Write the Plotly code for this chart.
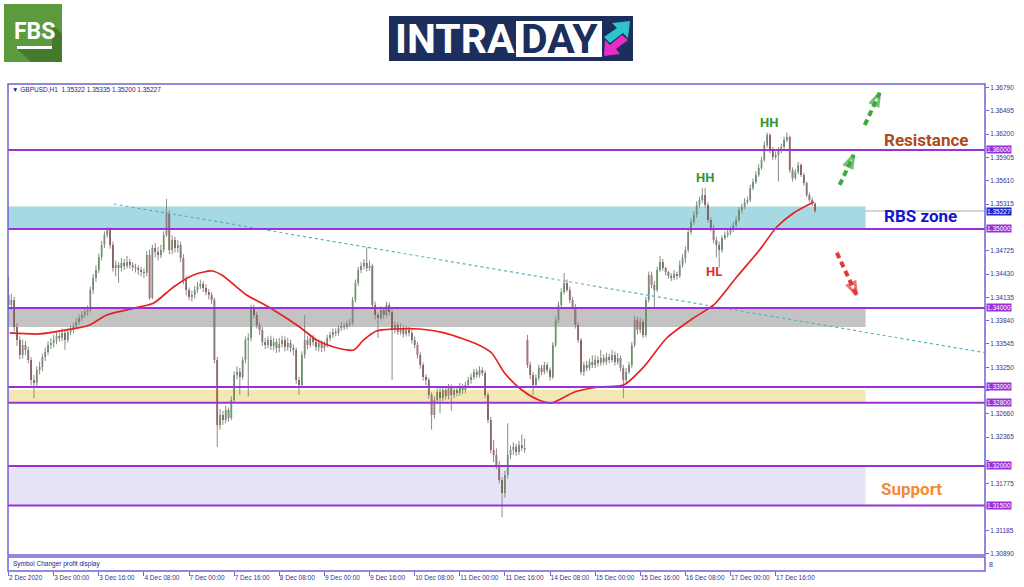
import plotly.graph_objects as go

# ---------------- DATA (GBPUSD H1) ----------------
close = [1.34038, 1.34101, 1.33759, 1.33595, 1.33405, 1.33532, 1.33468, 1.33342, 1.33089, 1.33051,
         1.33215, 1.33253, 1.33380, 1.33443, 1.33532, 1.33557, 1.33595, 1.33646, 1.33620, 1.33684,
         1.33595, 1.33696, 1.33722, 1.33772, 1.33823, 1.33873, 1.33911, 1.33949, 1.33975, 1.34228,
         1.34380, 1.34481, 1.34646, 1.34797, 1.34924, 1.34987, 1.34797, 1.34506, 1.34544, 1.34506,
         1.34570, 1.34532, 1.34582, 1.34544, 1.34519, 1.34506, 1.34481, 1.34456, 1.34443, 1.34671,
         1.34127, 1.34759, 1.34709, 1.34671, 1.34734, 1.34924, 1.35203, 1.34734, 1.34861, 1.34759,
         1.34797, 1.34633, 1.34354, 1.34228, 1.34139, 1.34165, 1.34228, 1.34278, 1.34304, 1.34253,
         1.34203, 1.34165, 1.34101, 1.33342, 1.32519, 1.32646, 1.32582, 1.32709, 1.32608, 1.32835,
         1.33152, 1.33190, 1.33127, 1.33342, 1.33595, 1.33620, 1.34013, 1.33911, 1.33785, 1.33722,
         1.33570, 1.33532, 1.33595, 1.33519, 1.33570, 1.33494, 1.33544, 1.33595, 1.33506, 1.33557,
         1.33494, 1.33468, 1.33089, 1.33025, 1.33405, 1.33595, 1.33532, 1.33620, 1.33570, 1.33506,
         1.33557, 1.33494, 1.33532, 1.33620, 1.33658, 1.33696, 1.33684, 1.33747, 1.33772, 1.33759,
         1.33797, 1.33810, 1.34101, 1.34316, 1.34481, 1.34532, 1.34570, 1.34506, 1.34532, 1.34038,
         1.33911, 1.33873, 1.33975, 1.33911, 1.34038, 1.33949, 1.33722, 1.33785, 1.33696, 1.33747,
         1.33671, 1.33722, 1.33684, 1.33595, 1.33532, 1.33405, 1.33278, 1.33127, 1.33089, 1.32899,
         1.32646, 1.32835, 1.32937, 1.32861, 1.32962, 1.32886, 1.32987, 1.32899, 1.32962, 1.32924,
         1.33000, 1.32962, 1.33025, 1.33089, 1.33127, 1.33190, 1.33152, 1.33215, 1.33177, 1.32899,
         1.32582, 1.32203, 1.32139, 1.32013, 1.31823, 1.31658, 1.31886, 1.32139, 1.32203, 1.32241,
         1.32177, 1.32266, 1.32228, 1.32215, 1.33278, 1.33152, 1.33025, 1.33114, 1.33241, 1.33190,
         1.33278, 1.33215, 1.33127, 1.33532, 1.33848, 1.34038, 1.34203, 1.34316, 1.34228, 1.34101,
         1.34013, 1.33785, 1.33595, 1.33190, 1.33278, 1.33241, 1.33316, 1.33278, 1.33342, 1.33304,
         1.33367, 1.33316, 1.33380, 1.33342, 1.33405, 1.33316, 1.33367, 1.33241, 1.33089, 1.33190,
         1.33278, 1.33532, 1.33848, 1.33722, 1.33823, 1.33658, 1.34101, 1.34418, 1.34291, 1.34228,
         1.34481, 1.34582, 1.34506, 1.34456, 1.34405, 1.34380, 1.34430, 1.34405, 1.34544, 1.34633,
         1.34734, 1.34962, 1.35089, 1.35177, 1.35304, 1.35367, 1.35430, 1.35304, 1.35114, 1.35013,
         1.34861, 1.34797, 1.34734, 1.34886, 1.34924, 1.34949, 1.34987, 1.35051, 1.35114, 1.35241,
         1.35278, 1.35342, 1.35367, 1.35519, 1.35595, 1.35684, 1.35772, 1.35873, 1.36063, 1.36190,
         1.36000, 1.35911, 1.35937, 1.36000, 1.36038, 1.36127, 1.36165, 1.35747, 1.35646, 1.35722,
         1.35810, 1.35684, 1.35582, 1.35430, 1.35367, 1.35322, 1.35227]

open_ = [1.34165, 1.34038, 1.34101, 1.33759, 1.33595, 1.33405, 1.33532, 1.33468, 1.33342, 1.33089,
         1.33051, 1.33215, 1.33253, 1.33380, 1.33443, 1.33532, 1.33557, 1.33595, 1.33646, 1.33620,
         1.33684, 1.33595, 1.33696, 1.33722, 1.33772, 1.33823, 1.33873, 1.33911, 1.33949, 1.33975,
         1.34228, 1.34380, 1.34481, 1.34646, 1.34797, 1.34924, 1.34987, 1.34797, 1.34506, 1.34544,
         1.34506, 1.34570, 1.34532, 1.34582, 1.34544, 1.34519, 1.34506, 1.34481, 1.34456, 1.34443,
         1.34671, 1.34127, 1.34759, 1.34709, 1.34671, 1.34734, 1.34924, 1.35203, 1.34734, 1.34861,
         1.34759, 1.34797, 1.34633, 1.34354, 1.34228, 1.34139, 1.34165, 1.34228, 1.34278, 1.34304,
         1.34253, 1.34203, 1.34165, 1.34101, 1.33342, 1.32519, 1.32646, 1.32582, 1.32709, 1.32608,
         1.32835, 1.33152, 1.33190, 1.33127, 1.33342, 1.33595, 1.33620, 1.34013, 1.33911, 1.33785,
         1.33722, 1.33570, 1.33532, 1.33595, 1.33519, 1.33570, 1.33494, 1.33544, 1.33595, 1.33506,
         1.33557, 1.33494, 1.33468, 1.33089, 1.33025, 1.33405, 1.33595, 1.33532, 1.33620, 1.33570,
         1.33506, 1.33557, 1.33494, 1.33532, 1.33620, 1.33658, 1.33696, 1.33684, 1.33747, 1.33772,
         1.33759, 1.33797, 1.33810, 1.34101, 1.34316, 1.34481, 1.34532, 1.34570, 1.34506, 1.34532,
         1.34038, 1.33911, 1.33873, 1.33975, 1.33911, 1.34038, 1.33949, 1.33722, 1.33785, 1.33696,
         1.33747, 1.33671, 1.33722, 1.33684, 1.33595, 1.33532, 1.33405, 1.33278, 1.33127, 1.33089,
         1.32899, 1.32646, 1.32835, 1.32937, 1.32861, 1.32962, 1.32886, 1.32987, 1.32899, 1.32962,
         1.32924, 1.33000, 1.32962, 1.33025, 1.33089, 1.33127, 1.33190, 1.33152, 1.33215, 1.33177,
         1.32899, 1.32582, 1.32203, 1.32139, 1.32013, 1.31823, 1.31658, 1.31886, 1.32139, 1.32203,
         1.32241, 1.32177, 1.32266, 1.32228, 1.33595, 1.33278, 1.33152, 1.33025, 1.33114, 1.33241,
         1.33190, 1.33278, 1.33215, 1.33127, 1.33532, 1.33848, 1.34038, 1.34203, 1.34316, 1.34228,
         1.34101, 1.34013, 1.33785, 1.33595, 1.33190, 1.33278, 1.33241, 1.33316, 1.33278, 1.33342,
         1.33304, 1.33367, 1.33316, 1.33380, 1.33342, 1.33405, 1.33316, 1.33367, 1.33241, 1.33089,
         1.33190, 1.33278, 1.33532, 1.33848, 1.33722, 1.33823, 1.33658, 1.34101, 1.34418, 1.34291,
         1.34228, 1.34481, 1.34582, 1.34506, 1.34456, 1.34405, 1.34380, 1.34430, 1.34405, 1.34544,
         1.34633, 1.34734, 1.34962, 1.35089, 1.35177, 1.35304, 1.35367, 1.35430, 1.35304, 1.35114,
         1.35013, 1.34861, 1.34797, 1.34734, 1.34886, 1.34924, 1.34949, 1.34987, 1.35051, 1.35114,
         1.35241, 1.35278, 1.35342, 1.35367, 1.35519, 1.35595, 1.35684, 1.35772, 1.35873, 1.36063,
         1.36190, 1.36000, 1.35911, 1.35937, 1.36000, 1.36038, 1.36127, 1.36165, 1.35747, 1.35646,
         1.35722, 1.35810, 1.35684, 1.35582, 1.35430, 1.35367, 1.35322]

high = [1.34392, 1.3418, 1.3414, 1.3381, 1.3364, 1.3360, 1.3358, 1.3351, 1.3338, 1.3315,
        1.3326, 1.3332, 1.3342, 1.3350, 1.3358, 1.3362, 1.3366, 1.3370, 1.3369, 1.3374,
        1.3372, 1.3374, 1.3378, 1.3381, 1.3387, 1.3392, 1.3396, 1.3399, 1.3403, 1.3427,
        1.3443, 1.3454, 1.3469, 1.3485, 1.3497, 1.3502, 1.3502, 1.3484, 1.3460, 1.3458,
        1.3463, 1.3462, 1.3466, 1.3462, 1.3458, 1.3456, 1.3454, 1.3452, 1.3450, 1.3472,
        1.3474, 1.3480, 1.3482, 1.3477, 1.3480, 1.3497, 1.3538, 1.3524, 1.3492, 1.3490,
        1.3486, 1.3484, 1.3468, 1.3440, 1.3426, 1.3422, 1.3428, 1.3433, 1.3436, 1.3434,
        1.3430, 1.3424, 1.3420, 1.3413, 1.3338, 1.3272, 1.3270, 1.3276, 1.3274, 1.3288,
        1.3320, 1.3326, 1.3324, 1.3338, 1.3364, 1.3368, 1.3404, 1.3404, 1.3395, 1.3382,
        1.3376, 1.3362, 1.3364, 1.3365, 1.3362, 1.3361, 1.3362, 1.3365, 1.3364, 1.3362,
        1.3360, 1.3354, 1.3350, 1.3313, 1.3345, 1.3391, 1.3364, 1.3367, 1.3366, 1.3361,
        1.3360, 1.3359, 1.3358, 1.3366, 1.3370, 1.3374, 1.3374, 1.3378, 1.3382, 1.3381,
        1.3384, 1.3386, 1.3414, 1.3436, 1.3452, 1.3458, 1.3462, 1.3477, 1.3460, 1.3456,
        1.3408, 1.3394, 1.3402, 1.3401, 1.3408, 1.3407, 1.3398, 1.3383, 1.3382, 1.3380,
        1.3378, 1.3377, 1.3376, 1.3372, 1.3364, 1.3357, 1.3344, 1.3331, 1.3316, 1.3312,
        1.3293, 1.3288, 1.3298, 1.3300, 1.3301, 1.3300, 1.3304, 1.3303, 1.3301, 1.3300,
        1.3305, 1.3304, 1.3307, 1.3313, 1.3317, 1.3323, 1.3323, 1.3326, 1.3325, 1.3321,
        1.3293, 1.3262, 1.3233, 1.3222, 1.3206, 1.3186, 1.3194, 1.3254, 1.3226, 1.3230,
        1.3228, 1.3232, 1.3240, 1.3235, 1.3366, 1.3332, 1.3319, 1.3316, 1.3328, 1.3328,
        1.3332, 1.3331, 1.3325, 1.3357, 1.3389, 1.3408, 1.3425, 1.3444, 1.3436, 1.3427,
        1.3414, 1.3405, 1.3382, 1.3362, 1.3332, 1.3333, 1.3336, 1.3340, 1.3340, 1.3339,
        1.3347, 1.3341, 1.3343, 1.3342, 1.3347, 1.3345, 1.3343, 1.3340, 1.3328, 1.3324,
        1.3332, 1.3357, 1.3390, 1.3389, 1.3388, 1.3386, 1.3414, 1.3446, 1.3446, 1.3434,
        1.3452, 1.3466, 1.3462, 1.3452, 1.3447, 1.3444, 1.3448, 1.3446, 1.3460, 1.3468,
        1.3478, 1.3500, 1.3513, 1.3522, 1.3535, 1.3541, 1.3552, 1.3552, 1.3534, 1.3515,
        1.3505, 1.3490, 1.3484, 1.3492, 1.3497, 1.3499, 1.3503, 1.3509, 1.3516, 1.3528,
        1.3532, 1.3539, 1.3541, 1.3556, 1.3564, 1.3573, 1.3582, 1.3591, 1.3611, 1.3622,
        1.3621, 1.3604, 1.3598, 1.3604, 1.3608, 1.3617, 1.3622, 1.3618, 1.3578, 1.3576,
        1.3585, 1.3583, 1.3571, 1.3560, 1.3546, 1.3540, 1.35335]

low = [1.33975, 1.3398, 1.3370, 1.3352, 1.3335, 1.3336, 1.3340, 1.3330, 1.3302, 1.3286,
       1.3300, 1.3316, 1.3320, 1.3333, 1.3340, 1.3348, 1.3350, 1.3354, 1.3357, 1.3358,
       1.3347, 1.3356, 1.3366, 1.3368, 1.3374, 1.3379, 1.3383, 1.3387, 1.3390, 1.3394,
       1.3418, 1.3433, 1.3444, 1.3460, 1.3476, 1.3489, 1.3475, 1.3446, 1.3440, 1.3432,
       1.3446, 1.3448, 1.3450, 1.3450, 1.3447, 1.3445, 1.3442, 1.3440, 1.3438, 1.3440,
       1.3410, 1.3411, 1.3464, 1.3460, 1.3463, 1.3470, 1.3490, 1.3468, 1.3468, 1.3470,
       1.3470, 1.3458, 1.3430, 1.3416, 1.3410, 1.3408, 1.3412, 1.3419, 1.3424, 1.3420,
       1.3416, 1.3411, 1.3405, 1.3330, 1.3224, 1.3246, 1.3252, 1.3254, 1.3256, 1.3258,
       1.3280, 1.3310, 1.3290, 1.3310, 1.3330, 1.3288, 1.3358, 1.3387, 1.3374, 1.3366,
       1.3352, 1.3348, 1.3349, 1.3347, 1.3346, 1.3343, 1.3344, 1.3350, 1.3345, 1.3346,
       1.3344, 1.3340, 1.3304, 1.3290, 1.3299, 1.3336, 1.3348, 1.3350, 1.3352, 1.3346,
       1.3345, 1.3344, 1.3345, 1.3350, 1.3358, 1.3362, 1.3364, 1.3365, 1.3371, 1.3372,
       1.3373, 1.3376, 1.3378, 1.3407, 1.3428, 1.3444, 1.3449, 1.3446, 1.3447, 1.3399,
       1.3385, 1.3362, 1.3384, 1.3386, 1.3388, 1.3390, 1.3309, 1.3368, 1.3366, 1.3366,
       1.3363, 1.3364, 1.3364, 1.3355, 1.3349, 1.3336, 1.3323, 1.3308, 1.3302, 1.3285,
       1.3246, 1.3260, 1.3279, 1.3267, 1.3282, 1.3284, 1.3284, 1.3270, 1.3286, 1.3288,
       1.3289, 1.3291, 1.3292, 1.3299, 1.3304, 1.3309, 1.3311, 1.3312, 1.3314, 1.3286,
       1.3254, 1.3216, 1.3205, 1.3196, 1.3178, 1.3135, 1.3160, 1.3184, 1.3209, 1.3214,
       1.3213, 1.3214, 1.3219, 1.3217, 1.3324, 1.3310, 1.3290, 1.3299, 1.3308, 1.3315,
       1.3316, 1.3318, 1.3308, 1.3310, 1.3350, 1.3381, 1.3400, 1.3417, 1.3420, 1.3406,
       1.3398, 1.3374, 1.3356, 1.3315, 1.3314, 1.3320, 1.3321, 1.3324, 1.3324, 1.3326,
       1.3327, 1.3328, 1.3328, 1.3330, 1.3331, 1.3327, 1.3328, 1.3320, 1.3286, 1.3305,
       1.3316, 1.3324, 1.3350, 1.3366, 1.3368, 1.3362, 1.3363, 1.3407, 1.3425, 1.3400,
       1.3420, 1.3446, 1.3447, 1.3441, 1.3437, 1.3434, 1.3435, 1.3436, 1.3438, 1.3451,
       1.3457, 1.3470, 1.3493, 1.3505, 1.3514, 1.3527, 1.3533, 1.3527, 1.3508, 1.3497,
       1.3482, 1.3464, 1.3451, 1.3470, 1.3486, 1.3489, 1.3492, 1.3496, 1.3502, 1.3509,
       1.3520, 1.3525, 1.3531, 1.3534, 1.3549, 1.3557, 1.3566, 1.3575, 1.3585, 1.3603,
       1.3596, 1.3587, 1.3588, 1.3560, 1.3596, 1.3601, 1.3610, 1.3571, 1.3560, 1.3562,
       1.3569, 1.3566, 1.3555, 1.3540, 1.3534, 1.3529, 1.35200]

# moving average line (at bar positions)
ma_bar = [0.4, 11.0, 20.6, 28.8, 34.8, 46.5, 51.5, 58.5, 65.6, 72.0, 75.6, 84.4, 89.7, 94.0,
          103.2, 109.2, 115.3, 122.4, 125.9, 130.5, 136.6, 145.8, 154.6, 166.7, 171.3, 175.9,
          182.0, 188.0, 192.6, 195.1, 200.7, 209.3, 218.1, 225.2, 233.4, 242.9, 250.0, 258.2,
          266.3, 272.4, 278.4, 285.5]
ma_val = [1.33684, 1.33671, 1.33722, 1.33785, 1.33911, 1.34013, 1.34063, 1.34266, 1.34418,
          1.34468, 1.34418, 1.34165, 1.34063, 1.33975, 1.33759, 1.33595, 1.33506, 1.33468,
          1.33595, 1.33709, 1.33734, 1.33734, 1.33684, 1.33532, 1.33430, 1.33177, 1.32962,
          1.32835, 1.32797, 1.32835, 1.32937, 1.33000, 1.33025, 1.33253, 1.33620, 1.33873,
          1.34038, 1.34392, 1.34734, 1.35025, 1.35203, 1.35342]

# dotted trend line
trend_bar = [37.3, 346.8]
trend_val = [1.35316, 1.33430]

# horizontal levels and zones
levels = [1.36000, 1.35000, 1.34000, 1.33000, 1.32800, 1.32000, 1.31500]
current_price = 1.35227
zone_low = [1.35000, 1.33760, 1.32800, 1.31500]
zone_high = [1.35283, 1.34000, 1.32962, 1.32000]
zone_colors = ["#a6d9e2", "#c3c3c3", "#f3e8b3", "#e5e5f7"]
zone_end_bar = 303.9

# axis ticks
x_tick_bars = [0, 16, 32, 48, 64, 80, 96, 112, 128, 144, 160, 176, 192, 208, 224, 240, 256, 272]
x_tick_text = ["2 Dec 2020", "3 Dec 00:00", "3 Dec 16:00", "4 Dec 08:00", "7 Dec 00:00",
               "7 Dec 16:00", "8 Dec 08:00", "9 Dec 00:00", "9 Dec 16:00", "10 Dec 08:00",
               "11 Dec 00:00", "11 Dec 16:00", "14 Dec 08:00", "15 Dec 00:00", "15 Dec 16:00",
               "16 Dec 08:00", "17 Dec 00:00", "17 Dec 16:00"]
y_ticks = [1.36790, 1.36495, 1.36200, 1.35905, 1.35610, 1.35315, 1.35020, 1.34725, 1.34430,
           1.34135, 1.33840, 1.33545, 1.33250, 1.32955, 1.32660, 1.32365, 1.32070, 1.31775,
           1.31480, 1.31185, 1.30890]
# tick labels hidden behind the level boxes in the picture
y_ticks_covered = [1.35020, 1.32955, 1.32070, 1.31480]

# ---------------- FIGURE ----------------
W, H = 1024, 587
L, R, T, B = 8, 39, 84, 16
PW, PH = W - L - R, H - T - B


def px(x):
    return (x - L) / PW


def py(y):
    return (H - B - y) / PH


FRAME = "#6b63d6"
PURPLE = "#9b30d9"
TXT = "#33338f"
FONT = "Liberation Sans, Arial, DejaVu Sans"

main_dom = [py(555), 1]
sub_dom = [0, py(557)]

bars = list(range(len(close)))

fig = go.Figure()

# wicks (gray)
wx, wy = [], []
for i in bars:
    wx += [i, i, None]
    wy += [low[i], high[i], None]
fig.add_trace(go.Scatter(x=wx, y=wy, mode="lines", line=dict(color="#8a8a8a", width=1),
                         hoverinfo="skip", showlegend=False))

fig.add_trace(go.Candlestick(
    x=bars, open=open_, high=high, low=low, close=close,
    increasing=dict(fillcolor="#3a8a3a", line=dict(color="#3a8a3a", width=0)),
    decreasing=dict(fillcolor="#761b1b", line=dict(color="#761b1b", width=0)),
    whiskerwidth=0, showlegend=False, hoverinfo="skip"))

# trend line
fig.add_trace(go.Scatter(x=trend_bar, y=trend_val, mode="lines",
                         line=dict(color="#5cb2bc", width=1.2, dash="dot"),
                         hoverinfo="skip", showlegend=False))

# moving average
fig.add_trace(go.Scatter(x=ma_bar, y=ma_val, mode="lines",
                         line=dict(color="#e32222", width=1.7, shape="spline", smoothing=0.7),
                         hoverinfo="skip", showlegend=False))

# dashed arrows
arrows = [
    ([294.7, 299.7], [1.35557, 1.35937], "#3fa83f"),
    ([303.6, 308.9], [1.36316, 1.36722], "#3fa83f"),
    ([293.7, 300.7], [1.34700, 1.34165], "#e03a3a"),
]
for ax_, ay_, col in arrows:
    fig.add_trace(go.Scatter(
        x=ax_, y=ay_, mode="lines+markers",
        line=dict(color=col, width=4, dash="6px,4px"),
        marker=dict(symbol="arrow-open", size=[0, 13], angleref="previous",
                    color=col, line=dict(color=col, width=3)),
        hoverinfo="skip", showlegend=False))

# dummy trace for the sub window
fig.add_trace(go.Scatter(x=[0], y=[0.5], xaxis="x", yaxis="y2", mode="markers",
                         marker=dict(opacity=0), hoverinfo="skip", showlegend=False))

shapes = []
for lo, hi, col in zip(zone_low, zone_high, zone_colors):
    shapes.append(dict(type="rect", xref="x", yref="y", x0=-0.2, x1=zone_end_bar, y0=lo, y1=hi,
                       fillcolor=col, line=dict(width=0), layer="below"))
shapes.append(dict(type="line", xref="paper", yref="y", x0=0, x1=1, y0=current_price,
                   y1=current_price, line=dict(color="#a8a8a8", width=1), layer="below"))
for lv in levels:
    shapes.append(dict(type="line", xref="paper", yref="y", x0=0, x1=1, y0=lv, y1=lv,
                       line=dict(color=PURPLE, width=2), layer="above"))
shapes.append(dict(type="rect", xref="paper", yref="paper", x0=0, x1=1,
                   y0=main_dom[0], y1=1, line=dict(color=FRAME, width=1.5)))
shapes.append(dict(type="rect", xref="paper", yref="paper", x0=0, x1=1,
                   y0=0, y1=sub_dom[1], line=dict(color=FRAME, width=1.5)))

# FBS logo
shapes.append(dict(type="rect", xref="paper", yref="paper", x0=px(4), x1=px(62),
                   y0=py(62), y1=py(4), fillcolor="#5b9a3d", line=dict(width=0)))
shapes.append(dict(type="path", xref="paper", yref="paper",
                   path="M {} {} L {} {} L {} {} L {} {} L {} {} L {} {} Z".format(
                       px(17), py(49), px(52), py(49), px(52), py(24), px(62), py(34),
                       px(62), py(62), px(31), py(62)),
                   fillcolor="#447a2b", line=dict(width=0)))
shapes.append(dict(type="rect", xref="paper", yref="paper", x0=px(17), x1=px(52),
                   y0=py(49), y1=py(46), fillcolor="white", line=dict(width=0)))

# INTRADAY logo
shapes.append(dict(type="rect", xref="paper", yref="paper", x0=px(389), x1=px(633),
                   y0=py(61), y1=py(16), fillcolor="#1c2e5c", line=dict(width=0)))
shapes.append(dict(type="rect", xref="paper", yref="paper", x0=px(516), x1=px(602),
                   y0=py(57), y1=py(21), fillcolor="white", line=dict(width=0)))
shapes.append(dict(type="path", xref="paper", yref="paper",
                   path="M {} {} L {} {} L {} {} L {} {} L {} {} L {} {} L {} {} Z".format(
                       px(604), py(37), px(617), py(28), px(612), py(23), px(630), py(21),
                       px(628), py(38), px(623), py(33), px(610), py(43)),
                   fillcolor="#2ec4cf", line=dict(width=0)))
shapes.append(dict(type="path", xref="paper", yref="paper",
                   path="M {} {} L {} {} L {} {} L {} {} L {} {} L {} {} L {} {} Z".format(
                       px(628), py(40), px(616), py(49), px(620), py(54), px(604), py(56),
                       px(605), py(40), px(610), py(45), px(622), py(35)),
                   fillcolor="#e92bc8", line=dict(width=0)))

ann = []
for lv in levels:
    ann.append(dict(xref="paper", yref="y", x=1, y=lv, xanchor="left", yanchor="middle",
                    xshift=1, text="{:.5f}".format(lv), showarrow=False, bgcolor=PURPLE,
                    borderpad=0, font=dict(family=FONT, size=6.5, color="white")))
ann.append(dict(xref="paper", yref="y", x=1, y=current_price, xanchor="left", yanchor="middle",
                xshift=1, text="{:.5f}".format(current_price), showarrow=False,
                bgcolor="#2323c4", borderpad=0, font=dict(family=FONT, size=6.5, color="white")))

ann.append(dict(xref="x", yref="y", x=325.2, y=1.36127, text="<b>Resistance</b>", showarrow=False,
                font=dict(family="Roboto", size=17, color="#ad4a1d")))
ann.append(dict(xref="x", yref="y", x=323.4, y=1.35165, text="<b>RBS zone</b>", showarrow=False,
                font=dict(family="Roboto", size=17, color="#1515c9")))
ann.append(dict(xref="x", yref="y", x=320.2, y=1.31709, text="<b>Support</b>", showarrow=False,
                font=dict(family="Roboto", size=17, color="#f28a37")))
ann.append(dict(xref="x", yref="y", x=246.8, y=1.35646, text="<b>HH</b>", showarrow=False,
                font=dict(family="Roboto", size=13, color="#2f962f")))
ann.append(dict(xref="x", yref="y", x=269.5, y=1.36342, text="<b>HH</b>", showarrow=False,
                font=dict(family="Roboto", size=13, color="#2f962f")))
ann.append(dict(xref="x", yref="y", x=250.0, y=1.34456, text="<b>HL</b>", showarrow=False,
                font=dict(family="Roboto", size=13, color="#e52a2a")))

ann.append(dict(xref="paper", yref="paper", x=px(10), y=py(89), xanchor="left", yanchor="middle",
                text="\u25bc GBPUSD,H1  1.35322 1.35335 1.35200 1.35227", showarrow=False,
                font=dict(family=FONT, size=6.5, color="#22228f")))
ann.append(dict(xref="paper", yref="paper", x=px(11), y=py(564), xanchor="left", yanchor="middle",
                text="Symbol Changer profit display", showarrow=False,
                font=dict(family=FONT, size=6.5, color="#22228f")))
ann.append(dict(xref="paper", yref="paper", x=1, y=py(564), xanchor="left", yanchor="middle",
                xshift=2, text="8", showarrow=False,
                font=dict(family=FONT, size=7, color=TXT)))

ann.append(dict(xref="paper", yref="paper", x=px(34.5), y=py(31.5), xanchor="center",
                yanchor="middle", text="<b>FBS</b>", showarrow=False,
                font=dict(family="Roboto", size=23, color="white")))
ann.append(dict(xref="paper", yref="paper", x=px(393), y=py(39), xanchor="left",
                yanchor="middle", text="<b>INTRA</b>", showarrow=False,
                font=dict(family="Roboto", size=41, color="white")))
ann.append(dict(xref="paper", yref="paper", x=px(559), y=py(39), xanchor="center",
                yanchor="middle", text="<b>DAY</b>", showarrow=False,
                font=dict(family="Roboto", size=41, color="#1c2e5c")))

y_tick_text = ["" if v in y_ticks_covered else "{:.5f}".format(v) for v in y_ticks]

fig.update_layout(
    width=W, height=H,
    margin=dict(l=L, r=R, t=T, b=B, pad=0, autoexpand=False),
    paper_bgcolor="white", plot_bgcolor="white",
    hovermode=False, boxgap=0.18,
    shapes=shapes, annotations=ann,
    xaxis=dict(range=[-0.2, 346.25], anchor="y2", tickmode="array", tickvals=x_tick_bars,
               ticktext=x_tick_text, ticks="outside", ticklen=4, tickcolor=FRAME,
               ticklabelposition="outside right", tickangle=0, automargin=False,
               tickfont=dict(family=FONT, size=6.5, color=TXT), showgrid=False,
               zeroline=False, showline=False, rangeslider=dict(visible=False)),
    yaxis=dict(domain=main_dom, range=[1.30873, 1.36835], side="right", anchor="x",
               tickmode="array", tickvals=y_ticks, ticktext=y_tick_text, automargin=False,
               ticks="outside", ticklen=3, tickcolor=FRAME,
               tickfont=dict(family=FONT, size=6.5, color=TXT),
               showgrid=False, zeroline=False, showline=False),
    yaxis2=dict(domain=sub_dom, range=[0, 1], anchor="x", showticklabels=False, ticks="",
                automargin=False, showgrid=False, zeroline=False, showline=False),
)

fig.write_html("out.html", config={"displayModeBar": False},
               post_script="document.body.style.margin='0';document.body.style.overflow='hidden';")
